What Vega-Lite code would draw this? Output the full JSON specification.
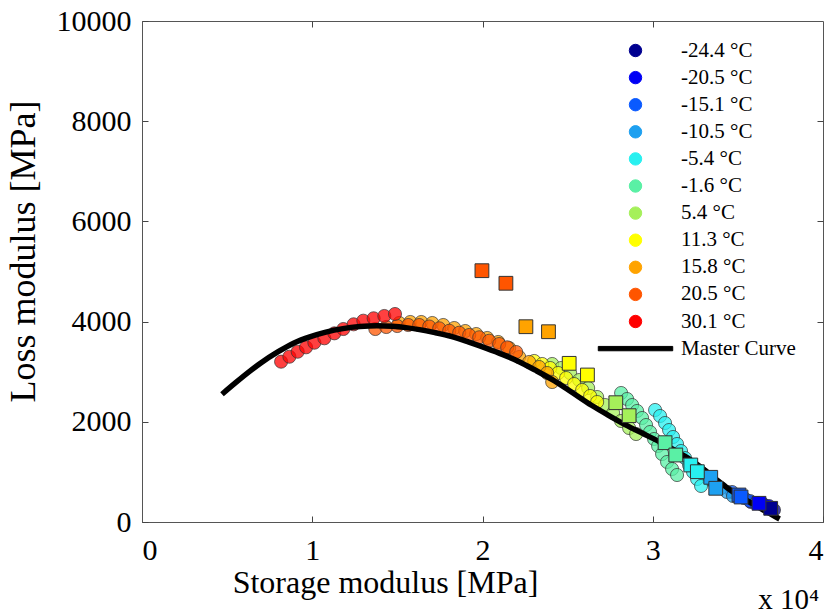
{
  "$schema": "https://vega.github.io/schema/vega-lite/v6.json",
  "autosize": {"type": "none"},
  "padding": {"left": 142, "top": 21, "right": 12, "bottom": 93},
  "width": 681,
  "height": 501,
  "background": "white",
  "title": {"text": "x 10⁴", "orient": "bottom", "anchor": "end", "frame": "group", "font": "Liberation Serif", "fontSize": 29, "fontWeight": "normal", "color": "black", "offset": 0, "dy": -12, "dx": -4},
  "config": {
    "font": "Liberation Serif",
    "view": {"stroke": "#555", "strokeWidth": 1},
    "axis": {"labelFont": "Liberation Serif", "titleFont": "Liberation Serif", "labelColor": "black", "titleColor": "black", "titleFontWeight": "normal", "domainColor": "#555", "tickColor": "#444", "grid": false, "tickSize": -6, "labelFontSize": 30, "titleFontSize": 32}
  },
  "datasets": {
    "pts": [
      {"T": "-24.4 °C", "kind": "circle", "E1": 36534, "E2": 339},
      {"T": "-24.4 °C", "kind": "circle", "E1": 36827, "E2": 299},
      {"T": "-24.4 °C", "kind": "circle", "E1": 37120, "E2": 240},
      {"T": "-24.4 °C", "kind": "square", "E1": 36927, "E2": 273},
      {"T": "-20.5 °C", "kind": "circle", "E1": 35771, "E2": 399},
      {"T": "-20.5 °C", "kind": "circle", "E1": 36123, "E2": 379},
      {"T": "-20.5 °C", "kind": "circle", "E1": 36475, "E2": 359},
      {"T": "-20.5 °C", "kind": "circle", "E1": 36827, "E2": 319},
      {"T": "-20.5 °C", "kind": "square", "E1": 36241, "E2": 373},
      {"T": "-15.1 °C", "kind": "circle", "E1": 34657, "E2": 599},
      {"T": "-15.1 °C", "kind": "circle", "E1": 35009, "E2": 539},
      {"T": "-15.1 °C", "kind": "circle", "E1": 35361, "E2": 479},
      {"T": "-15.1 °C", "kind": "circle", "E1": 35713, "E2": 419},
      {"T": "-15.1 °C", "kind": "circle", "E1": 36065, "E2": 379},
      {"T": "-15.1 °C", "kind": "square", "E1": 35067, "E2": 539},
      {"T": "-15.1 °C", "kind": "square", "E1": 35185, "E2": 499},
      {"T": "-10.5 °C", "kind": "circle", "E1": 32955, "E2": 958},
      {"T": "-10.5 °C", "kind": "circle", "E1": 33307, "E2": 858},
      {"T": "-10.5 °C", "kind": "circle", "E1": 33659, "E2": 758},
      {"T": "-10.5 °C", "kind": "circle", "E1": 34011, "E2": 679},
      {"T": "-10.5 °C", "kind": "circle", "E1": 34364, "E2": 599},
      {"T": "-10.5 °C", "kind": "circle", "E1": 34716, "E2": 519},
      {"T": "-10.5 °C", "kind": "square", "E1": 33406, "E2": 892},
      {"T": "-10.5 °C", "kind": "square", "E1": 33700, "E2": 673},
      {"T": "-5.4 °C", "kind": "circle", "E1": 30138, "E2": 2236},
      {"T": "-5.4 °C", "kind": "circle", "E1": 30431, "E2": 2116},
      {"T": "-5.4 °C", "kind": "circle", "E1": 30724, "E2": 1976},
      {"T": "-5.4 °C", "kind": "circle", "E1": 30959, "E2": 1836},
      {"T": "-5.4 °C", "kind": "circle", "E1": 31194, "E2": 1697},
      {"T": "-5.4 °C", "kind": "circle", "E1": 31428, "E2": 1557},
      {"T": "-5.4 °C", "kind": "circle", "E1": 31663, "E2": 1417},
      {"T": "-5.4 °C", "kind": "circle", "E1": 31898, "E2": 1277},
      {"T": "-5.4 °C", "kind": "circle", "E1": 32133, "E2": 1138},
      {"T": "-5.4 °C", "kind": "circle", "E1": 32368, "E2": 998},
      {"T": "-5.4 °C", "kind": "circle", "E1": 32603, "E2": 858},
      {"T": "-5.4 °C", "kind": "circle", "E1": 32838, "E2": 719},
      {"T": "-5.4 °C", "kind": "square", "E1": 32233, "E2": 1138},
      {"T": "-5.4 °C", "kind": "square", "E1": 32620, "E2": 1004},
      {"T": "-1.6 °C", "kind": "circle", "E1": 28142, "E2": 2575},
      {"T": "-1.6 °C", "kind": "circle", "E1": 28494, "E2": 2455},
      {"T": "-1.6 °C", "kind": "circle", "E1": 28788, "E2": 2335},
      {"T": "-1.6 °C", "kind": "circle", "E1": 29081, "E2": 2216},
      {"T": "-1.6 °C", "kind": "circle", "E1": 29375, "E2": 2076},
      {"T": "-1.6 °C", "kind": "circle", "E1": 29609, "E2": 1936},
      {"T": "-1.6 °C", "kind": "circle", "E1": 29844, "E2": 1796},
      {"T": "-1.6 °C", "kind": "circle", "E1": 30079, "E2": 1657},
      {"T": "-1.6 °C", "kind": "circle", "E1": 30314, "E2": 1517},
      {"T": "-1.6 °C", "kind": "circle", "E1": 30548, "E2": 1357},
      {"T": "-1.6 °C", "kind": "circle", "E1": 30842, "E2": 1198},
      {"T": "-1.6 °C", "kind": "circle", "E1": 31135, "E2": 1058},
      {"T": "-1.6 °C", "kind": "circle", "E1": 31428, "E2": 938},
      {"T": "-1.6 °C", "kind": "square", "E1": 30724, "E2": 1583},
      {"T": "-1.6 °C", "kind": "square", "E1": 31352, "E2": 1337},
      {"T": "5.4 °C", "kind": "circle", "E1": 24093, "E2": 3154},
      {"T": "5.4 °C", "kind": "circle", "E1": 24621, "E2": 3074},
      {"T": "5.4 °C", "kind": "circle", "E1": 25149, "E2": 2974},
      {"T": "5.4 °C", "kind": "circle", "E1": 25677, "E2": 2834},
      {"T": "5.4 °C", "kind": "circle", "E1": 26206, "E2": 2675},
      {"T": "5.4 °C", "kind": "circle", "E1": 26734, "E2": 2495},
      {"T": "5.4 °C", "kind": "circle", "E1": 27203, "E2": 2335},
      {"T": "5.4 °C", "kind": "circle", "E1": 27673, "E2": 2176},
      {"T": "5.4 °C", "kind": "circle", "E1": 28142, "E2": 2016},
      {"T": "5.4 °C", "kind": "circle", "E1": 28612, "E2": 1876},
      {"T": "5.4 °C", "kind": "circle", "E1": 29023, "E2": 1756},
      {"T": "5.4 °C", "kind": "square", "E1": 27830, "E2": 2381},
      {"T": "5.4 °C", "kind": "square", "E1": 28612, "E2": 2122},
      {"T": "11.3 °C", "kind": "circle", "E1": 23036, "E2": 3214},
      {"T": "11.3 °C", "kind": "circle", "E1": 23506, "E2": 3154},
      {"T": "11.3 °C", "kind": "circle", "E1": 23975, "E2": 3074},
      {"T": "11.3 °C", "kind": "circle", "E1": 24445, "E2": 2974},
      {"T": "11.3 °C", "kind": "circle", "E1": 24914, "E2": 2874},
      {"T": "11.3 °C", "kind": "circle", "E1": 25384, "E2": 2754},
      {"T": "11.3 °C", "kind": "circle", "E1": 25853, "E2": 2635},
      {"T": "11.3 °C", "kind": "circle", "E1": 26323, "E2": 2515},
      {"T": "11.3 °C", "kind": "circle", "E1": 26734, "E2": 2395},
      {"T": "11.3 °C", "kind": "square", "E1": 25091, "E2": 3167},
      {"T": "11.3 °C", "kind": "square", "E1": 26163, "E2": 2934},
      {"T": "15.8 °C", "kind": "circle", "E1": 15113, "E2": 3972},
      {"T": "15.8 °C", "kind": "circle", "E1": 15759, "E2": 3992},
      {"T": "15.8 °C", "kind": "circle", "E1": 16404, "E2": 3992},
      {"T": "15.8 °C", "kind": "circle", "E1": 17050, "E2": 3972},
      {"T": "15.8 °C", "kind": "circle", "E1": 17695, "E2": 3932},
      {"T": "15.8 °C", "kind": "circle", "E1": 18341, "E2": 3872},
      {"T": "15.8 °C", "kind": "circle", "E1": 18987, "E2": 3812},
      {"T": "15.8 °C", "kind": "circle", "E1": 19632, "E2": 3752},
      {"T": "15.8 °C", "kind": "circle", "E1": 20278, "E2": 3673},
      {"T": "15.8 °C", "kind": "circle", "E1": 20923, "E2": 3593},
      {"T": "15.8 °C", "kind": "circle", "E1": 21569, "E2": 3473},
      {"T": "15.8 °C", "kind": "circle", "E1": 22156, "E2": 3293},
      {"T": "15.8 °C", "kind": "circle", "E1": 22743, "E2": 3194},
      {"T": "15.8 °C", "kind": "circle", "E1": 23330, "E2": 3094},
      {"T": "15.8 °C", "kind": "circle", "E1": 23799, "E2": 2974},
      {"T": "15.8 °C", "kind": "circle", "E1": 24093, "E2": 2794},
      {"T": "15.8 °C", "kind": "square", "E1": 22549, "E2": 3898},
      {"T": "15.8 °C", "kind": "square", "E1": 23875, "E2": 3798},
      {"T": "20.5 °C", "kind": "circle", "E1": 13704, "E2": 3852},
      {"T": "20.5 °C", "kind": "circle", "E1": 14349, "E2": 3892},
      {"T": "20.5 °C", "kind": "circle", "E1": 14995, "E2": 3912},
      {"T": "20.5 °C", "kind": "circle", "E1": 15640, "E2": 3932},
      {"T": "20.5 °C", "kind": "circle", "E1": 16286, "E2": 3932},
      {"T": "20.5 °C", "kind": "circle", "E1": 16873, "E2": 3902},
      {"T": "20.5 °C", "kind": "circle", "E1": 17460, "E2": 3866},
      {"T": "20.5 °C", "kind": "circle", "E1": 18047, "E2": 3818},
      {"T": "20.5 °C", "kind": "circle", "E1": 18634, "E2": 3778},
      {"T": "20.5 °C", "kind": "circle", "E1": 19221, "E2": 3733},
      {"T": "20.5 °C", "kind": "circle", "E1": 19808, "E2": 3687},
      {"T": "20.5 °C", "kind": "circle", "E1": 20395, "E2": 3618},
      {"T": "20.5 °C", "kind": "circle", "E1": 20982, "E2": 3553},
      {"T": "20.5 °C", "kind": "circle", "E1": 21451, "E2": 3487},
      {"T": "20.5 °C", "kind": "circle", "E1": 21979, "E2": 3393},
      {"T": "20.5 °C", "kind": "square", "E1": 19967, "E2": 5016},
      {"T": "20.5 °C", "kind": "square", "E1": 21375, "E2": 4765},
      {"T": "30.1 °C", "kind": "circle", "E1": 8170, "E2": 3200},
      {"T": "30.1 °C", "kind": "circle", "E1": 8657, "E2": 3299},
      {"T": "30.1 °C", "kind": "circle", "E1": 9144, "E2": 3399},
      {"T": "30.1 °C", "kind": "circle", "E1": 9637, "E2": 3487},
      {"T": "30.1 °C", "kind": "circle", "E1": 10124, "E2": 3579},
      {"T": "30.1 °C", "kind": "circle", "E1": 10711, "E2": 3667},
      {"T": "30.1 °C", "kind": "circle", "E1": 11298, "E2": 3766},
      {"T": "30.1 °C", "kind": "circle", "E1": 11826, "E2": 3852},
      {"T": "30.1 °C", "kind": "circle", "E1": 12431, "E2": 3946},
      {"T": "30.1 °C", "kind": "circle", "E1": 13000, "E2": 4018},
      {"T": "30.1 °C", "kind": "circle", "E1": 13605, "E2": 4066},
      {"T": "30.1 °C", "kind": "circle", "E1": 14233, "E2": 4112},
      {"T": "30.1 °C", "kind": "circle", "E1": 14861, "E2": 4152}
    ],
    "mc": [
      {"E1": 4700, "E2": 2550}, {"E1": 5500, "E2": 2780}, {"E1": 6300, "E2": 3000}, {"E1": 7000, "E2": 3180},
      {"E1": 8000, "E2": 3400}, {"E1": 8900, "E2": 3570}, {"E1": 9900, "E2": 3700}, {"E1": 10800, "E2": 3790},
      {"E1": 11800, "E2": 3860}, {"E1": 12800, "E2": 3900}, {"E1": 13800, "E2": 3915}, {"E1": 14700, "E2": 3905},
      {"E1": 15500, "E2": 3880}, {"E1": 16300, "E2": 3840}, {"E1": 17200, "E2": 3780}, {"E1": 18200, "E2": 3700},
      {"E1": 19200, "E2": 3590}, {"E1": 20200, "E2": 3470}, {"E1": 21200, "E2": 3340}, {"E1": 22150, "E2": 3200},
      {"E1": 23100, "E2": 3030}, {"E1": 24100, "E2": 2840}, {"E1": 25200, "E2": 2600}, {"E1": 26400, "E2": 2330},
      {"E1": 27400, "E2": 2130}, {"E1": 28400, "E2": 1940}, {"E1": 29400, "E2": 1770}, {"E1": 30400, "E2": 1600},
      {"E1": 31200, "E2": 1450}, {"E1": 32000, "E2": 1290}, {"E1": 33000, "E2": 1050}, {"E1": 33800, "E2": 830},
      {"E1": 34500, "E2": 650}, {"E1": 35300, "E2": 470}, {"E1": 36000, "E2": 340}, {"E1": 36700, "E2": 200},
      {"E1": 37450, "E2": 60}
    ]
  },
  "layer": [
    {
      "data": {"name": "pts"},
      "transform": [{"filter": "datum.kind === 'circle'"}],
      "mark": {"type": "point", "shape": "circle", "filled": true, "size": 172, "stroke": "#333", "strokeWidth": 1, "fillOpacity": 0.75, "strokeOpacity": 0.7},
      "encoding": {
        "x": {"field": "E1", "type": "quantitative", "scale": {"domain": [0, 40000], "nice": false, "zero": false},
              "axis": {"orient": "bottom", "title": "Storage modulus [MPa]", "values": [0, 10000, 20000, 30000, 40000], "labelExpr": "format(datum.value/10000, 'd')", "labelPadding": 19, "titleAnchor": "start", "titleAlign": "center", "titleX": 243, "titleY": 70, "titleBaseline": "alphabetic"}},
        "y": {"field": "E2", "type": "quantitative", "scale": {"domain": [0, 10000], "nice": false, "zero": false},
              "axis": {"orient": "left", "title": "Loss modulus [MPa]", "format": "d", "values": [0, 2000, 4000, 6000, 8000, 10000], "labelPadding": 17, "titleFontSize": 36, "titleAlign": "center", "titleX": -100, "titleY": 230}},
        "color": {"field": "T", "type": "nominal",
          "scale": {"domain": ["-24.4 °C", "-20.5 °C", "-15.1 °C", "-10.5 °C", "-5.4 °C", "-1.6 °C", "5.4 °C", "11.3 °C", "15.8 °C", "20.5 °C", "30.1 °C", "Master Curve"],
                    "range": ["#000090", "#0000F5", "#0A5AFF", "#1EA0F0", "#28F0F0", "#5AF0A5", "#A5F05A", "#FFFF00", "#FFA300", "#FF5500", "#FF0000", "#000000"]},
          "legend": {"orient": "none", "legendX": 483, "legendY": 19, "title": null, "labelFont": "Liberation Serif", "labelFontSize": 21, "labelColor": "black", "labelOffset": 35, "rowPadding": 5.1, "symbolSize": 154, "symbolType": "circle", "symbolStrokeWidth": 1, "symbolStrokeColor": "#333",
            "encode": {"symbols": {"update": {
              "shape": {"signal": "datum.value === 'Master Curve' ? 'M-6,-0.35H6V0.35H-6Z' : 'circle'"},
              "stroke": {"signal": "datum.value === 'Master Curve' ? '#000' : '#333'"},
              "fill": {"scale": "color", "field": "value"},
              "opacity": {"value": 1},
              "fillOpacity": {"value": 1}
            }}}}
        }
      }
    },
    {
      "data": {"name": "mc"},
      "mark": {"type": "line", "strokeWidth": 5.5, "interpolate": "monotone"},
      "encoding": {
        "x": {"field": "E1", "type": "quantitative", "axis": {"orient": "top", "labels": false, "title": null, "domain": false, "values": [10000, 20000, 30000]}},
        "y": {"field": "E2", "type": "quantitative", "axis": {"orient": "right", "labels": false, "title": null, "domain": false, "values": [2000, 4000, 6000, 8000]}},
        "color": {"datum": "Master Curve"}
      }
    },
    {
      "data": {"name": "pts"},
      "transform": [{"filter": "datum.kind === 'square'"}],
      "mark": {"type": "point", "shape": "square", "filled": true, "size": 190, "stroke": "#333", "strokeWidth": 1, "opacity": 1},
      "encoding": {
        "x": {"field": "E1", "type": "quantitative", "axis": null},
        "y": {"field": "E2", "type": "quantitative", "axis": null},
        "color": {"field": "T", "type": "nominal"}
      }
    }
  ],
  "resolve": {"axis": {"x": "independent", "y": "independent"}}
}
